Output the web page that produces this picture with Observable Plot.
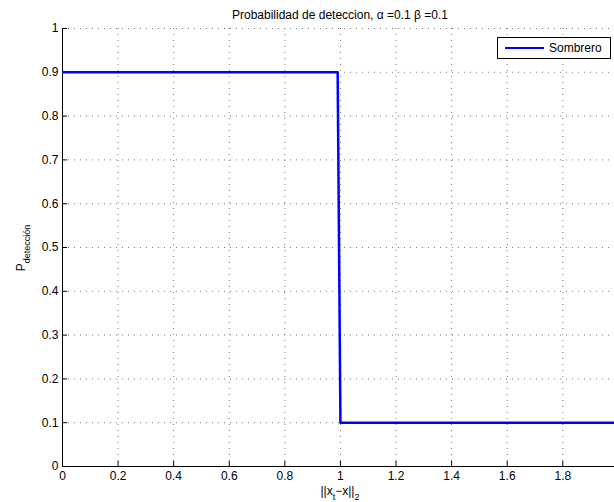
<!DOCTYPE html>
<html><head><meta charset="utf-8">
<script src="https://cdn.jsdelivr.net/npm/d3@7"></script>
<script src="https://cdn.jsdelivr.net/npm/@observablehq/plot@0.6"></script>
<style>
body{margin:0;background:#fff;font-family:"Liberation Sans",Arial,Helvetica,sans-serif;}
#wrap{position:relative;width:614px;height:502px;overflow:hidden;background:#fff;}
#title{box-sizing:border-box;height:22px;padding-top:8px;line-height:14px;margin-left:62px;width:556px;text-align:center;font-size:12px;color:#000;white-space:nowrap;}
#legend{position:absolute;left:497px;top:37px;width:112px;height:20px;border:1px solid #000;background:#fff;font-size:12px;}
#legend .sw{position:absolute;left:7px;top:10px;width:39px;height:0;border-top:2.5px solid #0000ff;margin-top:-1px;}
#legend .lb{position:absolute;left:51px;top:3px;line-height:14px;}
</style></head><body>
<div id="wrap">
  <div id="title">Probabilidad de deteccion, α =0.1 β =0.1</div>
  <div id="chart"></div>
  <div id="legend"><span class="sw"></span><span class="lb">Sombrero</span></div>
</div>
<script>
const xValues = [0, 0.99, 1.0, 2.0];
const yValues = [0.9, 0.9, 0.1, 0.1];
const seriesName = "Sombrero";
const xTicks = [0, 0.2, 0.4, 0.6, 0.8, 1, 1.2, 1.4, 1.6, 1.8];
const yTicks = [0, 0.1, 0.2, 0.3, 0.4, 0.5, 0.6, 0.7, 0.8, 0.9, 1];
const xDomain = [0, 1.986];
const yDomain = [0, 1];

const data = xValues.map((x, i) => ({x, y: yValues[i], series: seriesName}));
const fmt = d => String(Math.round(d * 10) / 10);
const gridStyle = {stroke: "#777", strokeOpacity: 1, strokeWidth: 1, strokeDasharray: "1,5"};

const chart = Plot.plot({
  width: 614, height: 480,
  marginTop: 6, marginBottom: 36, marginLeft: 62, marginRight: 0,
  style: {fontFamily: "Liberation Sans, Arial, Helvetica, sans-serif", fontSize: "12px", background: "white", overflow: "visible", color: "#000"},
  x: {domain: xDomain, label: null},
  y: {domain: yDomain, label: null},
  marks: [
    Plot.gridX(xTicks.filter(d => d > 0), gridStyle),
    Plot.gridY(yTicks.filter(d => d > 0), gridStyle),
    Plot.axisX(xTicks, {tickSize: -5, text: null, stroke: "#000"}),
    Plot.axisY(yTicks, {tickSize: -5, text: null, stroke: "#000"}),
    Plot.axisX(xTicks, {tickSize: 0, tickPadding: 5, tickFormat: fmt, fontSize: 12}),
    Plot.axisY(yTicks, {tickSize: 0, tickPadding: 4, tickFormat: fmt, fontSize: 12}),
    Plot.ruleX([xDomain[0]], {stroke: "#000"}),
    Plot.ruleY([yDomain[0]], {stroke: "#000"}),
    Plot.line(data, {x: "x", y: "y", stroke: "#0000ff", strokeWidth: 2.5, clip: true})
  ]
});
document.getElementById("chart").appendChild(chart);

// axis labels with subscripts
const svg = d3.select(chart);
const xl = svg.append("text")
  .attr("x", 340).attr("y", 473)
  .attr("text-anchor", "middle")
  .attr("font-size", 12).attr("fill", "#000");
xl.append("tspan").text("||x");
xl.append("tspan").attr("dy", 5).attr("font-size", 9).text("t");
xl.append("tspan").attr("dy", -5).text("−x||");
xl.append("tspan").attr("dy", 5).attr("font-size", 9).text("2");

const yl = svg.append("text")
  .attr("transform", "translate(25,226) rotate(-90)")
  .attr("text-anchor", "middle")
  .attr("font-size", 12).attr("fill", "#000");
yl.append("tspan").text("P");
yl.append("tspan").attr("dy", 5).attr("font-size", 9).text("detección");
</script>
</body></html>
